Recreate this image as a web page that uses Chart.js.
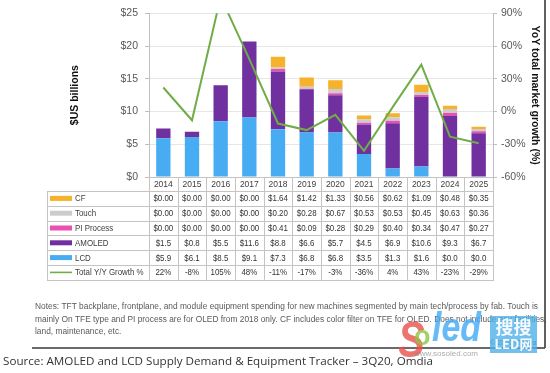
<!DOCTYPE html>
<html><head><meta charset="utf-8">
<script src="https://cdn.jsdelivr.net/npm/chart.js@4/dist/chart.umd.min.js"></script>
<style>html,body{margin:0;padding:0;background:#fff;}#wrap{width:550px;height:373px;position:relative;}</style>
</head><body><div id="wrap"><canvas id="c" width="550" height="373"></canvas></div>
<script>
const years = ['2014','2015','2016','2017','2018','2019','2020','2021','2022','2023','2024','2025'];
const cf = [0,0,0,0,1.64,1.42,1.33,0.56,0.62,1.09,0.48,0.35];
const touch = [0,0,0,0,0.20,0.28,0.67,0.53,0.53,0.45,0.63,0.36];
const piProcess = [0,0,0,0,0.41,0.09,0.28,0.29,0.40,0.34,0.47,0.27];
const amoled = [1.5,0.8,5.5,11.6,8.8,6.6,5.7,4.5,6.9,10.6,9.3,6.7];
const lcd = [5.9,6.1,8.5,9.1,7.3,6.8,6.8,3.5,1.3,1.6,0.0,0.0];
const growth = [22,-8,105,48,-11,-17,-3,-36,4,43,-23,-29];

const leftTitle = '$US billions';
const rightTitle = 'YoY total market growth (%)';
const notes = [
 'Notes: TFT backplane, frontplane, and module equipment spending for new machines segmented by main tech/process by fab. Touch is',
 'mainly On TFE type and PI process are for OLED from 2018 only. CF includes color filter on TFE for OLED. Does not include any facilities,',
 'land, maintenance, etc.'
];
const source = 'Source: AMOLED and LCD Supply Demand & Equipment Tracker \u2013 3Q20, Omdia';

const C = {cf:'#F5B22A', touch:'#CCCCCC', pi:'#EC4FB2', amoled:'#7030A0', lcd:'#47ACF2', growth:'#70AD47'};
const FONT = '"Liberation Sans", Arial, sans-serif';

const tableRows = [
  {label:'CF', color:C.cf, vals:cf, fmt:v=>'$'+v.toFixed(2)},
  {label:'Touch', color:C.touch, vals:touch, fmt:v=>'$'+v.toFixed(2)},
  {label:'PI Process', color:C.pi, vals:piProcess, fmt:v=>'$'+v.toFixed(2)},
  {label:'AMOLED', color:C.amoled, vals:amoled, fmt:v=>'$'+v.toFixed(1)},
  {label:'LCD', color:C.lcd, vals:lcd, fmt:v=>'$'+v.toFixed(1)},
  {label:'Total Y/Y Growth %', color:C.growth, vals:growth, fmt:v=>v+'%', line:true}
];

function txt(ctx, s, x, y, font, color, align, sx){
  ctx.save(); ctx.font=font; ctx.fillStyle=color; ctx.textBaseline='middle'; ctx.textAlign=align||'left';
  ctx.translate(x,y); ctx.scale(sx||1,1); ctx.fillText(s,0,0); ctx.restore();
}

const tablePlugin = {
  id:'tablePlugin',
  afterDraw(chart){
    const ctx = chart.ctx, xs = chart.scales.x, a = chart.chartArea;
    const n = years.length;
    const colW = (a.right - a.left)/n;
    const headB = a.bottom + 14;
    const rowH = 14.8;
    const tabL = 47;
    const tabB = headB + rowH*tableRows.length;
    ctx.save();
    ctx.strokeStyle = '#C4C4C4'; ctx.lineWidth = 1;
    ctx.beginPath();
    for(let i=0;i<=n;i++){ const x = Math.round(a.left + i*colW)+0.5; ctx.moveTo(x,a.bottom); ctx.lineTo(x,tabB); }
    ctx.moveTo(tabL+0.5, headB); ctx.lineTo(tabL+0.5, tabB);
    for(let r=0;r<=tableRows.length;r++){ const y = Math.round(headB + r*rowH)+0.5; ctx.moveTo(tabL,y); ctx.lineTo(a.right+1,y); }
    ctx.stroke();
    const f = '9px '+FONT;
    tableRows.forEach((row,r)=>{
      const yc = headB + r*rowH + rowH/2;
      if(row.line){ ctx.fillStyle=row.color; ctx.fillRect(50, yc-0.8, 22, 1.6); }
      else { ctx.fillStyle=row.color; ctx.fillRect(50, yc-2.5, 22, 5); }
      txt(ctx,row.label,75,yc+0.5,f,'#404040','left',0.88);
      row.vals.forEach((v,i)=>{ txt(ctx,row.fmt(v),xs.getPixelForValue(i),yc+0.5,f,'#333','center',0.88); });
    });
    // notes
    const nf = '8.3px '+FONT;
    ctx.font = nf;
    const nsx = 503/ctx.measureText(notes[0]).width;
    notes.forEach((s,i)=>txt(ctx,s,35,307+i*12.6,nf,'#595959','left',nsx));
    // frame lines
    ctx.strokeStyle='#3A3A3A'; ctx.lineWidth=1.6;
    ctx.beginPath(); ctx.moveTo(32,348); ctx.lineTo(545,348); ctx.moveTo(545,0); ctx.lineTo(545,348); ctx.stroke();
    // source
    const sf = '11.5px "Open Sans", '+FONT;
    ctx.font = sf;
    const ssx = 430/ctx.measureText(source).width;
    txt(ctx,source,3,362,sf,'#333','left',ssx);
    // watermark
    txt(ctx,'\u00A9 2020 Omdia',490,343,'8px '+FONT,'#555','left',0.9);
    ctx.globalAlpha = 0.8;
    txt(ctx,'S',398,343,'italic bold 50px '+FONT,'#E8504A','left',0.8);
    txt(ctx,'o',414,338,'bold 27px '+FONT,'#8DC63F','left',1);
    txt(ctx,'led',432,330,'italic bold 40px '+FONT,'#3FA9F5','left',0.85);
    ctx.fillStyle='#4FB0E8'; ctx.fillRect(490,316,47,37);
    ctx.globalAlpha = 0.95;
    txt(ctx,'\u641C\u641C',513.5,327,'bold 18px "Noto Sans CJK SC"','#fff','center',1);
    txt(ctx,'LED\u7F51',513.5,344,'bold 13px "Noto Sans CJK SC"','#fff','center',1);
    ctx.globalAlpha = 0.7;
    txt(ctx,'www.sosoled.com',446,354,'8px '+FONT,'#888','center',1);
    ctx.restore();
  }
};

new Chart(document.getElementById('c'), {
  data:{
    labels: years,
    datasets:[
      {type:'line', label:'Total Y/Y Growth %', data:growth, yAxisID:'y1', borderColor:C.growth, borderWidth:2, pointRadius:0, tension:0, order:0},
      {type:'bar', label:'LCD', data:lcd, backgroundColor:C.lcd, yAxisID:'y', order:1},
      {type:'bar', label:'AMOLED', data:amoled, backgroundColor:C.amoled, yAxisID:'y', order:1},
      {type:'bar', label:'PI Process', data:piProcess, backgroundColor:C.pi, yAxisID:'y', order:1},
      {type:'bar', label:'Touch', data:touch, backgroundColor:C.touch, yAxisID:'y', order:1},
      {type:'bar', label:'CF', data:cf, backgroundColor:C.cf, yAxisID:'y', order:1}
    ]
  },
  options:{
    responsive:false, animation:false, devicePixelRatio:1,
    layout:{padding:{left:69, right:9, top:6, bottom:0}},
    datasets:{bar:{barPercentage:0.5, categoryPercentage:1}},
    plugins:{legend:{display:false}, tooltip:{enabled:false}},
    scales:{
      x:{stacked:true, grid:{display:false, drawTicks:false}, border:{display:true, color:'#C4C4C4'},
         ticks:{font:{size:8.5, family:FONT}, color:'#404040', padding:3, maxRotation:0, autoSkip:false},
         afterFit(s){ s.height = 196; }},
      y:{stacked:true, position:'left', min:0, max:25,
         ticks:{stepSize:5, callback:v=>'$'+v, font:{size:10.5, family:FONT}, color:'#595959', padding:7},
         grid:{color:'#E6E6E6', tickLength:4, tickColor:'#BFBFBF'}, border:{color:'#BFBFBF'},
         title:{display:true, text:leftTitle, font:{size:10.5, weight:'bold', family:FONT}, color:'#111', padding:0},
         afterFit(s){ s.width = 80; }},
      y1:{position:'right', min:-60, max:90,
         ticks:{stepSize:30, callback:v=>v+'%', font:{size:10.5, family:FONT}, color:'#595959', padding:4},
         grid:{drawOnChartArea:false, tickLength:4, color:'#BFBFBF'}, border:{color:'#BFBFBF'},
         title:{display:true, text:rightTitle, font:{size:10.5, weight:'bold', family:FONT}, color:'#111', padding:0},
         afterFit(s){ s.width = 48; }}
    }
  },
  plugins:[tablePlugin]
});
</script></body></html>
